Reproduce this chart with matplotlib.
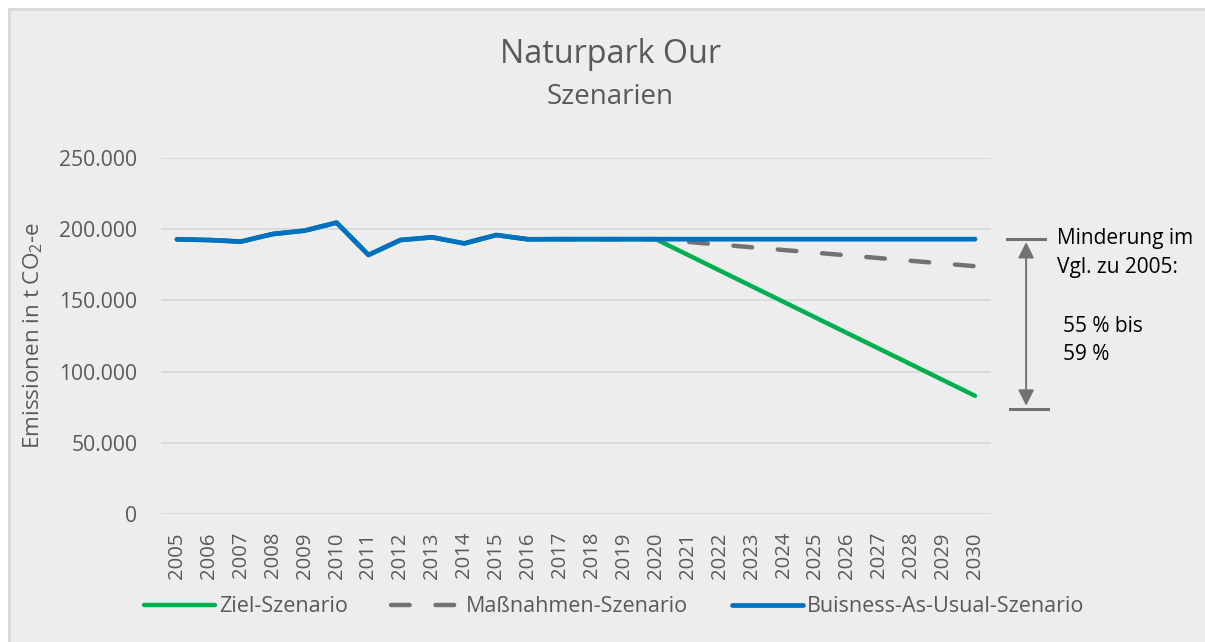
import matplotlib.pyplot as plt
from matplotlib.lines import Line2D
from matplotlib.patches import Rectangle
from matplotlib.ticker import FuncFormatter

plt.rcParams['font.family'] = ['Open Sans', 'DejaVu Sans']
plt.rcParams['mathtext.default'] = 'regular'

# data (t CO2-e)
years = [str(y) for y in range(2005, 2031)]
history = [192900, 192400, 191300, 196600, 199000, 204600, 181900, 192400, 194300,
           190000, 195900, 192900, 193000, 193000, 193000, 193000]
bau = history + [193000] * 10
massnahmen = history + [191100, 189200, 187300, 185400, 183500, 181600, 179700,
                        177800, 175900, 174000]
ziel = history + [182000, 171000, 160000, 149000, 138000, 127000, 116000,
                  105000, 94000, 83000]
bracket_top = 193000
bracket_bottom = 74000

W, H = 1205, 642
grey_txt = '#595959'
fig = plt.figure(figsize=(W / 100, H / 100), dpi=100)
fig.patch.set_facecolor('#EDEDED')

# white margin on left/top, then the chart border (chart is cropped right/bottom)
fig.patches.append(Rectangle((0, 0), 8 / W, 1, transform=fig.transFigure,
                             facecolor='white', edgecolor='none', zorder=-10))
fig.patches.append(Rectangle((0, 1 - 8 / H), 1, 8 / H, transform=fig.transFigure,
                             facecolor='white', edgecolor='none', zorder=-10))
fig.add_artist(Line2D([9 / W, 9 / W], [0, 1 - 9 / H], color='#D9D9D9', lw=2))
fig.add_artist(Line2D([9 / W, 1], [1 - 9 / H, 1 - 9 / H], color='#D9D9D9', lw=2))

ax = fig.add_axes([161 / W, 1 - 514 / H, 830 / W, 356 / H])
ax.set_facecolor('none')
x = list(range(len(years)))

ax.plot(x, ziel, color='#00B050', lw=3.2, solid_capstyle='round',
        label='Ziel-Szenario', zorder=3)
ax.plot(x, massnahmen, color='#767171', lw=3.2, dashes=(4.2, 5.8),
        dash_capstyle='round', label='Maßnahmen-Szenario', zorder=4)
ax.plot(x, bau, color='#0070C0', lw=3.4, solid_capstyle='round',
        label='Buisness-As-Usual-Szenario', zorder=5)

ax.set_xlim(-0.5, len(years) - 0.5)
ax.set_ylim(0, 250000)
ax.set_yticks(range(0, 250001, 50000))
ax.yaxis.set_major_formatter(FuncFormatter(lambda v, p: f'{int(v):,}'.replace(',', '.')))
ax.set_xticks(x)
ax.set_xticklabels(years, rotation=90)
ax.tick_params(axis='x', length=0, pad=13, labelsize=14.6, labelcolor=grey_txt)
ax.tick_params(axis='y', length=0, pad=17, labelsize=15.2, labelcolor=grey_txt)
ax.grid(axis='y', color='#D9D9D9', lw=1.3)
ax.set_axisbelow(True)
for s in ax.spines.values():
    s.set_visible(False)

# reduction bracket
ax.plot([26.0, 27.2], [bracket_top] * 2, color='#767171', lw=2.2, clip_on=False)
ax.plot([26.1, 27.3], [bracket_bottom] * 2, color='#767171', lw=2.2, clip_on=False)
ax.annotate('', xy=(26.6, bracket_bottom + 2000), xytext=(26.6, bracket_top - 2000),
            arrowprops=dict(arrowstyle='<|-|>', color='#767171', lw=1.4,
                            mutation_scale=24, shrinkA=0, shrinkB=0),
            annotation_clip=False)
for txt, px, py in [('Minderung im', 1057, 244), ('Vgl. zu 2005:', 1057, 273),
                    ('55 % bis', 1063, 332), ('59 %', 1063, 360)]:
    fig.text(px / W, 1 - py / H, txt, fontsize=15, color='black',
             ha='left', va='baseline')

fig.text(610 / W, 1 - 63 / H, 'Naturpark Our', fontsize=23.2, color=grey_txt,
         ha='center', va='baseline')
fig.text(610 / W, 1 - 104 / H, 'Szenarien', fontsize=20, color=grey_txt,
         ha='center', va='baseline')
fig.text(33 / W, 1 - 335 / H, 'Emissionen in t CO$_2$-e', fontsize=16.2,
         color=grey_txt, rotation=90, ha='center', va='center')

fig.legend(loc='center', bbox_to_anchor=(614 / W, 1 - 607 / H), ncol=3,
           frameon=False, fontsize=15.5, handlelength=3.3, handletextpad=0.2,
           columnspacing=2.0, labelcolor=grey_txt)

fig.savefig('out.png', dpi=100, facecolor=fig.get_facecolor())
